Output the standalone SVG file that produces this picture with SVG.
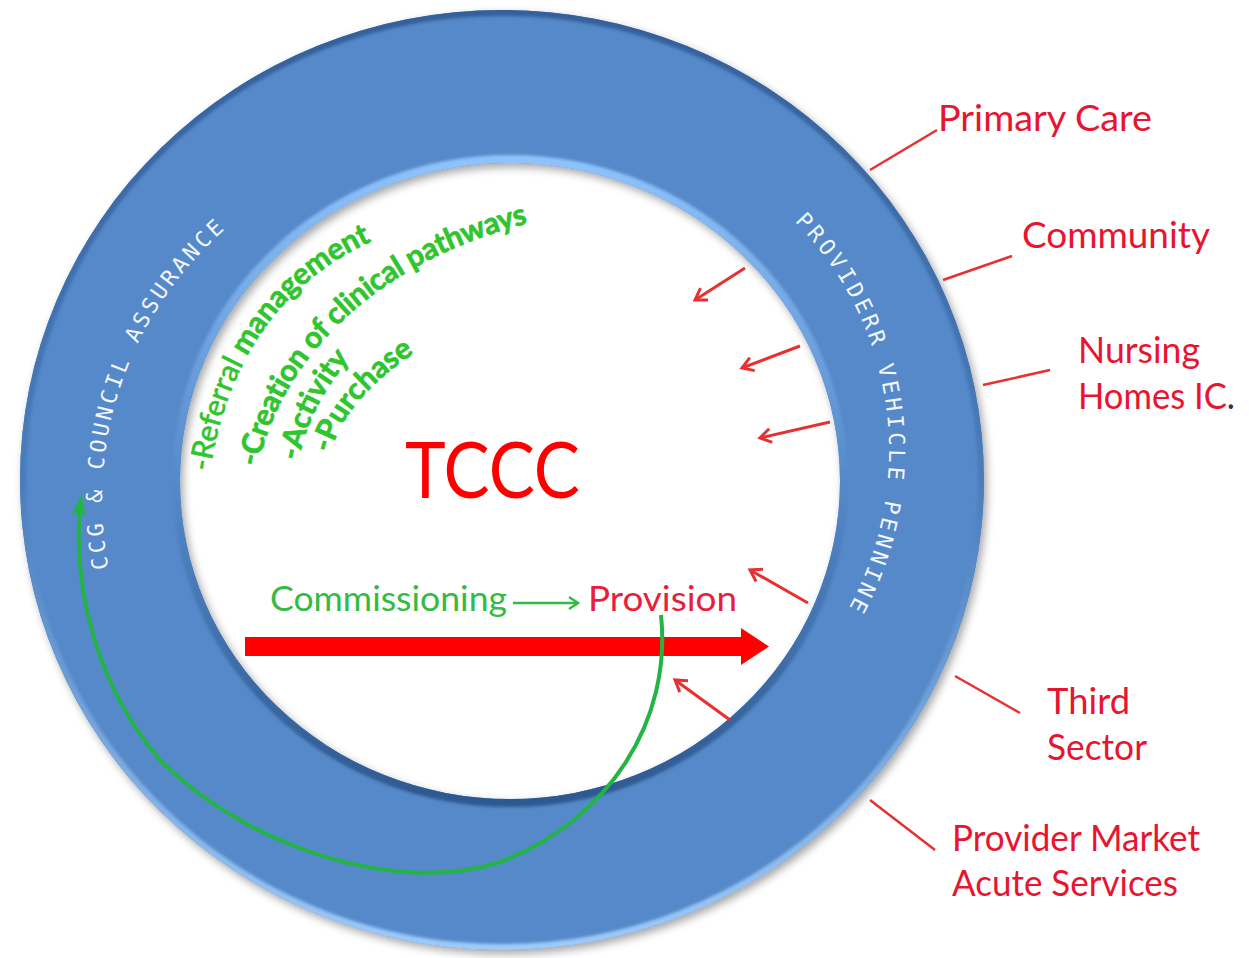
<svg xmlns="http://www.w3.org/2000/svg" width="1254" height="958" viewBox="0 0 1254 958">
<defs>
<style>
.lbl{font-family:Lato,"Liberation Sans",sans-serif;font-size:36px;fill:#e81530}
.ringtxt{font-family:"DejaVu Sans Mono","Liberation Mono",monospace;font-size:22px;fill:#f3f6fb}
.gtxt{font-family:Lato,"Liberation Sans",sans-serif;font-size:30px;font-weight:bold;fill:#2fc52f;stroke:#2fc52f;stroke-width:0.7}
.rline{stroke:#e83030;stroke-width:2.5;fill:none}
.rarrow{stroke:#e83030;stroke-width:3;fill:none;marker-end:url(#redHead)}
</style>
<marker id="redHead" markerUnits="userSpaceOnUse" markerWidth="18" markerHeight="18" refX="14" refY="9" orient="auto" viewBox="0 0 18 18">
<path d="M3,2 L14,9 L3,16" fill="none" stroke="#e83030" stroke-width="3"/>
</marker>
<marker id="greenHead" markerUnits="userSpaceOnUse" markerWidth="16" markerHeight="16" refX="13" refY="8" orient="auto" viewBox="0 0 16 16">
<path d="M4,2 L13,8 L4,14" fill="none" stroke="#33bb44" stroke-width="2.5"/>
</marker>
<marker id="greenTri" markerUnits="userSpaceOnUse" markerWidth="20" markerHeight="20" refX="16" refY="10" orient="auto" viewBox="0 0 20 20">
<path d="M0,3 L18,10 L0,17 Z" fill="#22b545"/>
</marker>
<linearGradient id="outerBevel" x1="0" y1="0" x2="0" y2="1">
<stop offset="0" stop-color="#345f9a"/>
<stop offset="0.5" stop-color="#4a7cbc"/>
<stop offset="1" stop-color="#9ecaf8"/>
</linearGradient>
<linearGradient id="innerBevel" x1="0" y1="0" x2="0" y2="1">
<stop offset="0" stop-color="#8fc2fa"/>
<stop offset="0.5" stop-color="#5589c9"/>
<stop offset="1" stop-color="#2e5890"/>
</linearGradient>
<clipPath id="ringClip">
<path d="M20,480 A482,470 0 1 0 984,480 A482,470 0 1 0 20,480 Z M180,481 A330,318 0 1 1 840,481 A330,318 0 1 1 180,481 Z" clip-rule="evenodd"/>
</clipPath>
<filter id="shadow" x="-5%" y="-5%" width="112%" height="112%">
<feDropShadow dx="3" dy="4" stdDeviation="4" flood-color="#000" flood-opacity="0.35"/>
</filter>
<filter id="soft" x="-5%" y="-5%" width="110%" height="110%">
<feGaussianBlur stdDeviation="1.5"/>
</filter>
<path id="pLeft" d="M108.6,568.5 A359,359 0 0 1 255.1,205.9"/>
<path id="pRight" d="M789.5,216.5 A326,326 0 0 1 830.1,638"/>
<path id="pG1" d="M210,472 Q237,296 384,236 L440,213"/>
<path id="pG2" d="M258,467 C277,375 357,268 525,224 L600,204"/>
<path id="pG3" d="M299,461 Q309,405 354,354 L380,322"/>
<path id="pG4" d="M331,453 Q343,400 419,350 L450,328"/>
</defs>

<rect x="0" y="0" width="1254" height="958" fill="#ffffff"/>

<g id="ring">
<path d="M20,480 A482,470 0 1 0 984,480 A482,470 0 1 0 20,480 Z M180,481 A330,318 0 1 1 840,481 A330,318 0 1 1 180,481 Z" fill-rule="evenodd" fill="#5589c9" filter="url(#shadow)"/>
<g clip-path="url(#ringClip)">
<g filter="url(#soft)">
<ellipse cx="502" cy="480" rx="482" ry="470" fill="none" stroke="url(#outerBevel)" stroke-width="12"/>
<ellipse cx="510" cy="481" rx="330" ry="318" fill="none" stroke="url(#innerBevel)" stroke-width="16"/>
</g>
</g>
</g>

<g id="ring-label-left">
<text class="ringtxt" letter-spacing="3.2"><textPath href="#pLeft">CCG &amp; COUNCIL ASSURANCE</textPath></text>
</g>
<g id="ring-label-right">
<text class="ringtxt" letter-spacing="3.6"><textPath href="#pRight" startOffset="7">PROVIDERR VEHICLE PENNINE</textPath></text>
</g>

<g id="tccc">
<text x="405" y="498" font-family="Lato, 'Liberation Sans', sans-serif" font-size="78" fill="#ff0000" textLength="175" lengthAdjust="spacingAndGlyphs">TCCC</text>
</g>

<g id="activities">
<text class="gtxt"><textPath href="#pG1"><tspan font-weight="normal">-Referral</tspan> management</textPath></text>
<text class="gtxt" letter-spacing="-0.35"><textPath href="#pG2">-Creation of clinical pathways</textPath></text>
<text class="gtxt"><textPath href="#pG3">-Activity</textPath></text>
<text class="gtxt"><textPath href="#pG4">-Purchase</textPath></text>
</g>

<g id="commissioning">
<text x="270" y="611" font-family="Lato, 'Liberation Sans', sans-serif" font-size="34" fill="#33bb44" textLength="237" lengthAdjust="spacingAndGlyphs">Commissioning</text>
</g>
<g id="provision">
<text x="588" y="611" font-family="Lato, 'Liberation Sans', sans-serif" font-size="34" fill="#e81e3c" textLength="149" lengthAdjust="spacingAndGlyphs">Provision</text>
</g>

<g id="label-primary-care">
<text class="lbl" x="938" y="131" textLength="214" lengthAdjust="spacingAndGlyphs">Primary Care</text>
</g>
<g id="label-community">
<text class="lbl" x="1022" y="248" textLength="188" lengthAdjust="spacingAndGlyphs">Community</text>
</g>
<g id="label-nursing">
<text class="lbl" x="1078" y="363" textLength="122" lengthAdjust="spacingAndGlyphs">Nursing</text>
<text class="lbl" x="1078" y="409" textLength="157" lengthAdjust="spacingAndGlyphs">Homes IC<tspan fill="#333333">.</tspan></text>
</g>
<g id="label-third-sector">
<text class="lbl" x="1047" y="714" textLength="83" lengthAdjust="spacingAndGlyphs">Third</text>
<text class="lbl" x="1047" y="760" textLength="100" lengthAdjust="spacingAndGlyphs">Sector</text>
</g>
<g id="label-provider-market">
<text class="lbl" x="952" y="851" textLength="248" lengthAdjust="spacingAndGlyphs">Provider Market</text>
<text class="lbl" x="952" y="896" textLength="226" lengthAdjust="spacingAndGlyphs">Acute Services</text>
</g>

<g id="connectors">
<line class="rline" x1="870" y1="170" x2="937" y2="130"/>
<line class="rline" x1="943" y1="280" x2="1012" y2="256"/>
<line class="rline" x1="983" y1="385" x2="1050" y2="370"/>
<line class="rline" x1="955" y1="676" x2="1020" y2="713"/>
<line class="rline" x1="870" y1="800" x2="935" y2="850"/>

<line class="rarrow" x1="745" y1="268" x2="695" y2="300"/>
<line class="rarrow" x1="800" y1="346" x2="742" y2="368"/>
<line class="rarrow" x1="830" y1="422" x2="760" y2="438"/>
<line class="rarrow" x1="808" y1="603" x2="750" y2="570"/>
<line class="rarrow" x1="730" y1="720" x2="675" y2="680"/>

<line x1="513" y1="603" x2="578" y2="603" stroke="#33bb44" stroke-width="2.5" marker-end="url(#greenHead)"/>

<path d="M245,637 L741,637 L741,628 L769,646.5 L741,665 L741,656 L245,656 Z" fill="#ff0000"/>

<path d="M661,615 C672,720 610,820 500,862 C400,895 250,850 160,760 C100,690 70,590 81,498" fill="none" stroke="#22b545" stroke-width="4" marker-end="url(#greenTri)"/>
</g>
</svg>
